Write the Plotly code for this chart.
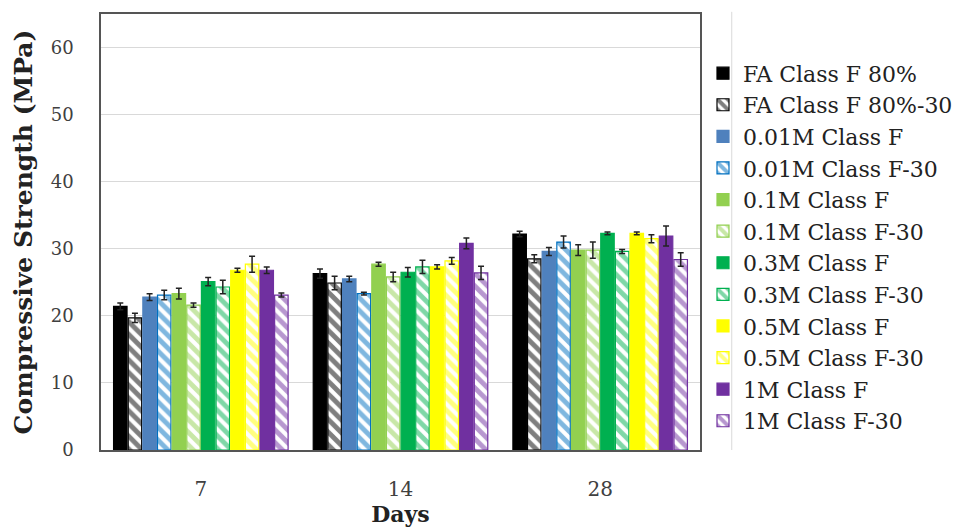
import plotly.graph_objects as go

days = ["7", "14", "28"]

series_names = [
    "FA Class F 80%", "FA Class F 80%-30",
    "0.01M Class F", "0.01M Class F-30",
    "0.1M Class F", "0.1M Class F-30",
    "0.3M Class F", "0.3M Class F-30",
    "0.5M Class F", "0.5M Class F-30",
    "1M Class F", "1M Class F-30",
]

fa80 = [21.4, 26.3, 32.2]
fa80_30 = [19.7, 24.9, 28.5]
m001 = [22.8, 25.5, 29.6]
m001_30 = [23.1, 23.3, 31.0]
m01 = [23.3, 27.7, 29.8]
m01_30 = [21.6, 25.8, 29.8]
m03 = [25.1, 26.5, 32.3]
m03_30 = [24.3, 27.3, 29.6]
m05 = [26.8, 27.3, 32.3]
m05_30 = [27.7, 28.2, 31.5]
m1 = [26.8, 30.8, 31.9]
m1_30 = [23.1, 26.4, 28.4]

fa80_err = [0.5, 0.7, 0.4]
fa80_30_err = [0.7, 1.0, 0.6]
m001_err = [0.5, 0.4, 0.6]
m001_30_err = [0.7, 0.2, 0.9]
m01_err = [0.8, 0.3, 0.8]
m01_30_err = [0.3, 0.7, 1.2]
m03_err = [0.6, 0.7, 0.2]
m03_30_err = [1.0, 1.0, 0.3]
m05_err = [0.3, 0.3, 0.2]
m05_30_err = [1.2, 0.5, 0.6]
m1_err = [0.5, 0.8, 1.5]
m1_30_err = [0.3, 1.0, 1.0]

values = [fa80, fa80_30, m001, m001_30, m01, m01_30, m03, m03_30, m05, m05_30, m1, m1_30]
errors = [fa80_err, fa80_30_err, m001_err, m001_30_err, m01_err, m01_30_err,
          m03_err, m03_30_err, m05_err, m05_30_err, m1_err, m1_30_err]
colors = ["#000000", "#000000", "#4F81BD", "#0070C0", "#92D050", "#92D050",
          "#00B050", "#00B050", "#FFFF00", "#FFFF00", "#7030A0", "#7030A0"]
hatched = [False, True] * 6

FONT = "DejaVu Serif"

fig = go.Figure()
for name, vals, errs, col, h in zip(series_names, values, errors, colors, hatched):
    marker = dict(color=col if not h else "white", line=dict(color=col, width=1.2))
    if h:
        marker["pattern"] = dict(shape="\\", fgcolor=col, bgcolor="white",
                                 size=9, solidity=0.55, fillmode="overlay")
    fig.add_trace(go.Bar(
        x=days, y=vals, name=name, marker=marker,
        error_y=dict(type="data", array=errs, color="#222222", thickness=1.5, width=3),
    ))

fig.update_layout(
    barmode="group", bargap=0.12, bargroupgap=0.08,
    width=975, height=531,
    margin=dict(l=101, r=275, t=14, b=76),
    paper_bgcolor="white", plot_bgcolor="white",
    font=dict(family=FONT, color="#404040"),
    legend=dict(x=1.005, xanchor="left", y=0.912, yanchor="top",
                font=dict(family=FONT, size=22, color="#222222"),
                itemwidth=30, bgcolor="rgba(0,0,0,0)"),
    shapes=[dict(type="line", xref="paper", yref="paper", x0=1.053, x1=1.053,
                 y0=0, y1=1.005, line=dict(color="#D9D9D9", width=1))],
)
fig.update_yaxes(range=[0, 65], tickvals=[0, 10, 20, 30, 40, 50, 60],
                 showgrid=True, gridcolor="#D9D9D9", gridwidth=1,
                 showline=True, mirror=True, linecolor="#555555", linewidth=1.5,
                 ticks="", ticklabelstandoff=22, zeroline=False,
                 tickfont=dict(size=18, color="#404040"),
                 title=dict(text="<b>Compressive Strength (MPa)</b>",
                            font=dict(size=25, color="#222222"), standoff=11))
fig.update_xaxes(showline=True, mirror=True, linecolor="#555555", linewidth=1.5,
                 ticks="", ticklabelstandoff=20,
                 tickfont=dict(size=20, color="#404040"),
                 title=dict(text="<b>Days</b>", font=dict(size=22, color="#222222"),
                            standoff=3))

fig.write_html("out.html")
